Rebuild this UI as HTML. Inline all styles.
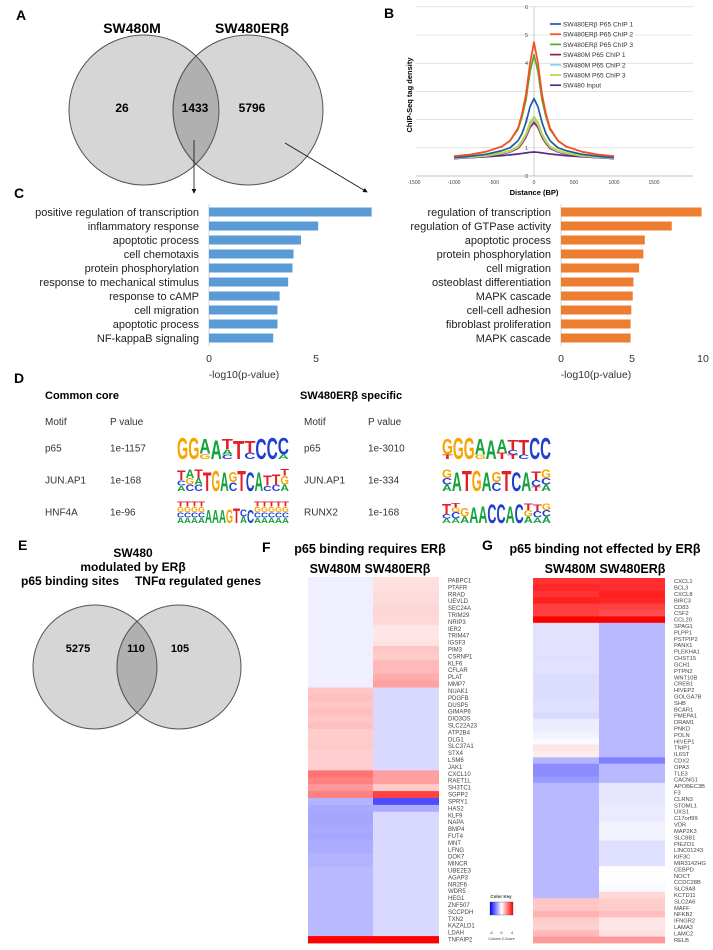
<!DOCTYPE html>
<html><head><meta charset="utf-8"><style>
html,body{margin:0;padding:0;background:#fff}
svg{display:block;font-family:"Liberation Sans",Arial,sans-serif}
</style></head><body>
<svg id="fig" width="713" height="950" viewBox="0 0 713 950" xmlns="http://www.w3.org/2000/svg">
<defs>
<linearGradient id="ckg" x1="0" x2="1" y1="0" y2="0"><stop offset="0" stop-color="#0000ff"/><stop offset="0.5" stop-color="#ffffff"/><stop offset="1" stop-color="#ff0000"/></linearGradient>
<marker id="arr" markerWidth="6" markerHeight="6" refX="5" refY="3" orient="auto"><path d="M0,0 L6,3 L0,6 z" fill="#111"/></marker>
</defs>
<!-- Panel A -->
<g>
<text x="16" y="20" font-size="14" font-weight="bold">A</text>
<circle cx="144" cy="110" r="75" fill="#d6d6d6" stroke="#555" stroke-width="1"/>
<circle cx="248" cy="110" r="75" fill="#d6d6d6" stroke="#555" stroke-width="1"/>
<path d="M196,56 A75,75 0 0 1 196,164 A75,75 0 0 1 196,56 Z" fill="#b0b0b0" stroke="#555" stroke-width="1"/>
<text x="132" y="33" font-size="14" font-weight="bold" text-anchor="middle">SW480M</text>
<text x="252" y="33" font-size="14" font-weight="bold" text-anchor="middle">SW480ERβ</text>
<text x="122" y="112" font-size="12" font-weight="bold" text-anchor="middle">26</text>
<text x="195" y="112" font-size="12" font-weight="bold" text-anchor="middle">1433</text>
<text x="252" y="112" font-size="12" font-weight="bold" text-anchor="middle">5796</text>
<line x1="194" y1="140" x2="194" y2="193" stroke="#111" stroke-width="0.8" marker-end="url(#arr)"/>
<line x1="285" y1="143" x2="367" y2="192" stroke="#111" stroke-width="0.8" marker-end="url(#arr)"/>
</g>
<!-- Panel B -->
<g id="pb">
<text x="384" y="18" font-size="14" font-weight="bold">B</text>
</g>
<!-- Panel C -->
<g id="pc">
<text x="14" y="198" font-size="14" font-weight="bold">C</text>
</g>
<!-- Panel D -->
<g id="pd">
<text x="14" y="383" font-size="14" font-weight="bold">D</text>
<text x="45" y="399" font-size="11" font-weight="bold">Common core</text>
<text x="300" y="399" font-size="11" font-weight="bold">SW480ERβ specific</text>
</g>
<!-- Panel E -->
<g>
<text x="18" y="550" font-size="14" font-weight="bold">E</text>
<text x="133" y="557" font-size="12" font-weight="bold" text-anchor="middle">SW480</text>
<text x="133" y="571" font-size="12" font-weight="bold" text-anchor="middle">modulated by ERβ</text>
<text x="70" y="585" font-size="12" font-weight="bold" text-anchor="middle">p65 binding sites</text>
<text x="198" y="585" font-size="12" font-weight="bold" text-anchor="middle">TNFα regulated genes</text>
<circle cx="95" cy="667" r="62" fill="#d6d6d6" stroke="#555"/>
<circle cx="179" cy="667" r="62" fill="#d6d6d6" stroke="#555"/>
<path d="M137,621.4 A62,62 0 0 1 137,712.6 A62,62 0 0 1 137,621.4 Z" fill="#b0b0b0" stroke="#555"/>
<text x="78" y="652" font-size="11" font-weight="bold" text-anchor="middle">5275</text>
<text x="136" y="652" font-size="11" font-weight="bold" text-anchor="middle">110</text>
<text x="180" y="652" font-size="11" font-weight="bold" text-anchor="middle">105</text>
</g>
<!-- Panels F,G -->
<g id="pf">
<text x="262" y="552" font-size="14" font-weight="bold">F</text>
<text x="370" y="553" font-size="12.5" font-weight="bold" text-anchor="middle">p65 binding requires ERβ</text>
<text x="370" y="573" font-size="12.5" font-weight="bold" text-anchor="middle">SW480M SW480ERβ</text>
</g>
<g id="pg">
<text x="482" y="550" font-size="14" font-weight="bold">G</text>
<text x="605" y="553" font-size="12.5" font-weight="bold" text-anchor="middle">p65 binding not effected by ERβ</text>
<text x="605" y="573" font-size="12.5" font-weight="bold" text-anchor="middle">SW480M SW480ERβ</text>
</g>
<g>
<text x="501" y="898" font-size="4.5" font-weight="bold" text-anchor="middle" fill="#333">Color Key</text>
<rect x="490" y="902" width="23" height="13" fill="url(#ckg)" stroke="#333" stroke-width="0.3"/>
<text x="491" y="934" font-size="4" text-anchor="middle" fill="#333">-4</text>
<text x="501.5" y="934" font-size="4" text-anchor="middle" fill="#333">0</text>
<text x="512" y="934" font-size="4" text-anchor="middle" fill="#333">4</text>
<text x="501.5" y="940" font-size="3.6" text-anchor="middle" fill="#333">Column Z-Score</text>
</g>
</svg>
<script>
// ---------- Panel B data ----------
const distances = [-1000,-800,-600,-400,-300,-200,-150,-100,-50,0,50,100,150,200,300,400,600,800,1000];
const erbChip1 = [0.65,0.70,0.77,0.90,1.00,1.25,1.50,1.90,2.45,2.75,2.45,1.90,1.50,1.25,1.00,0.90,0.77,0.70,0.65];
const erbChip2 = [0.70,0.76,0.86,1.05,1.25,1.70,2.20,2.90,4.00,4.75,4.00,2.90,2.20,1.70,1.25,1.05,0.86,0.76,0.70];
const erbChip3 = [0.70,0.76,0.86,1.05,1.25,1.65,2.10,2.70,3.70,4.30,3.70,2.70,2.10,1.65,1.25,1.05,0.86,0.76,0.70];
const mChip1 = [0.62,0.65,0.69,0.78,0.85,0.98,1.15,1.38,1.72,1.90,1.72,1.38,1.15,0.98,0.85,0.78,0.69,0.65,0.62];
const mChip2 = [0.63,0.66,0.71,0.80,0.87,1.02,1.20,1.45,1.80,2.00,1.80,1.45,1.20,1.02,0.87,0.80,0.71,0.66,0.63];
const mChip3 = [0.65,0.68,0.73,0.82,0.90,1.05,1.25,1.50,1.90,2.10,1.90,1.50,1.25,1.05,0.90,0.82,0.73,0.68,0.65];
const inputTrack = [0.62,0.65,0.68,0.72,0.75,0.78,0.80,0.82,0.84,0.85,0.84,0.82,0.80,0.78,0.75,0.72,0.68,0.65,0.62];
const seriesNames = ["SW480ERβ P65 ChIP 1","SW480ERβ P65 ChIP 2","SW480ERβ P65 ChIP 3","SW480M P65 ChIP 1","SW480M P65 ChIP 2","SW480M P65 ChIP 3","SW480 Input"];
const xTicksB = [-1500,-1000,-500,0,500,1000,1500];
const yTicksB = [0,1,2,3,4,5,6];

// ---------- Panel C data ----------
const goCommonTerms = ["positive regulation of transcription","inflammatory response","apoptotic process","cell chemotaxis","protein phosphorylation","response to mechanical stimulus","response to cAMP","cell migration","apoptotic process","NF-kappaB signaling"];
const goCommonValues = [7.6,5.1,4.3,3.95,3.9,3.7,3.3,3.2,3.2,3.0];
const goSpecificTerms = ["regulation of transcription","regulation of GTPase activity","apoptotic process","protein phosphorylation","cell migration","osteoblast differentiation","MAPK cascade","cell-cell adhesion","fibroblast proliferation","MAPK cascade"];
const goSpecificValues = [9.9,7.8,5.9,5.8,5.5,5.1,5.05,4.95,4.9,4.9];
const goTicksLeft = [0,5];
const goTicksRight = [0,5,10];

// ---------- Panel D data ----------
const motifNamesCommon = ["p65","JUN.AP1","HNF4A"];
const motifPCommon = ["1e-1157","1e-168","1e-96"];
const motifNamesSpecific = ["p65","JUN.AP1","RUNX2"];
const motifPSpecific = ["1e-3010","1e-334","1e-168"];
const logosCommon = [
 "G:1|G:1|G:.25,A:.7|A:.9|C:.2,A:.25,T:.5|T:.85|C:.3,T:.55|C:.95|C:1|A:.2,C:.8",
 "A:.25,C:.25,T:.45|C:.3,G:.3,A:.4|C:.3,A:.3,T:.4|T:.9|G:.95|A:.9|C:.4,G:.5|T:.95|C:.9|A:.9|C:.25,T:.5|C:.3,T:.5|A:.3,G:.4,T:.3",
 "A:.25,C:.25,G:.25,T:.25|A:.25,C:.25,G:.25,T:.25|A:.25,C:.25,G:.25,T:.25|A:.25,C:.25,G:.25,T:.25|A:.6|A:.6|A:.6|G:.65|T:.7|A:.3,C:.35|C:.6|A:.25,C:.25,G:.25,T:.25|A:.25,C:.25,G:.25,T:.25|A:.25,C:.25,G:.25,T:.25|A:.25,C:.25,G:.25,T:.25|A:.25,C:.25,G:.25,T:.25"
];
const logosSpecific = [
 "T:.2,G:.75|G:1|G:1|G:.2,A:.75|A:.9|T:.3,A:.6|T:.2,C:.2,T:.5|C:.2,T:.7|C:1|C:1",
 "A:.3,C:.3,G:.4|A:.9|T:.95|G:.95|A:.9|C:.4,G:.5|T:.95|C:.9|A:.9|T:.2,C:.3,T:.4|A:.3,C:.3,G:.4",
 "A:.2,C:.2,T:.5|A:.2,C:.3,G:.2,T:.2|A:.3,G:.4|A:.75|A:.8|C:.9|C:.9|A:.8|C:.9|A:.3,G:.3,T:.3|A:.25,C:.3,T:.3|A:.3,C:.3,G:.3"
];

// ---------- Panel F data ----------
const genesF = ["PABPC1","PTAFR","RRAD","UEVLD","SEC24A","TRIM29","NRIP3","IER2","TRIM47","IGSF3","PIM3","CSRNP1","KLF6","CFLAR","PLAT","MMP7","NUAK1","PDGFB","DUSP5","GIMAP6","DIO3OS","SLC22A23","ATP2B4","DLG1","SLC37A1","STX4","LSM6","JAK1","CXCL10","RAET1L","SH3TC1","SGPP2","SPRY1","HAS2","KLF9","NAPA","BMP4","FUT4","MNT","LFNG","DOK7","MINCR","UBE2E3","AGAP3","NR2F6","WDR5","HEG1","ZNF507","SCCPDH","TXN2","KAZALD1","LDAH","TNFAIP2"];
const zF_M = [-0.25,-0.25,-0.25,-0.25,-0.25,-0.25,-0.25,-0.25,-0.25,-0.25,-0.25,-0.25,-0.25,-0.25,-0.25,-0.25,
 0.9,1.0,0.9,1.0,0.9,1.0,0.8,0.8,0.85,0.75,0.75,0.75,
 2.2,2.0,1.6,2.0,
 -1.2,-1.35,-1.4,-1.4,-1.35,-1.4,-1.3,-1.3,-1.2,-1.2,-1.1,-1.1,-1.1,-1.1,-1.1,-1.1,-1.1,-1.1,-1.1,-1.1,
 4.0];
const zF_E = [0.5,0.5,0.55,0.55,0.65,0.65,0.6,0.4,0.4,0.45,0.9,0.8,1.1,1.1,1.3,1.5,
 -0.6,-0.6,-0.6,-0.6,-0.6,-0.6,-0.6,-0.6,-0.6,-0.6,-0.6,-0.6,
 1.5,1.5,0.8,3.0,
 -2.8,-1.3,-0.6,-0.6,-0.6,-0.6,-0.6,-0.6,-0.6,-0.6,-0.6,-0.6,-0.6,-0.6,-0.6,-0.6,-0.6,-0.6,-0.6,-0.6,
 4.0];

// ---------- Panel G data ----------
const genesG = ["CXCL1","BCL3","CXCL8","BIRC3","CD83","CSF2","CCL20","SPAG1","PLPP1","PSTPIP2","PANX1","PLEKHA1","CHST15","GCH1","PTPN2","WNT10B","CREB1","HIVEP2","GOLGA7B","SHB","BCAR1","PMEPA1","DRAM1","PNKD","POLN","HIVEP1","TNIP1","IL6ST","CDX2","OPA3","TLE3","CACNG1","APOBEC3B","F3","CLRN3","STOML1","UXS1","C17orf99","VDR","MAP2K3","SLC8B1","PIEZO1","LINC01243","KIF3C","MIR3142HG","CEBPD","NOCT","CCDC28B","SLC9A8","KCTD11","SLC2A6","MAFF","NFKB2","IFNGR2","LAMA3","LAMC2","RELB"];
const zG_M = [3.2,3.4,3.2,3.5,3.0,3.0,4.0,
 -0.45,-0.45,-0.45,-0.45,-0.45,-0.5,-0.45,-0.45,-0.55,-0.55,-0.55,-0.55,-0.5,-0.5,-0.6,-0.3,-0.3,-0.2,-0.1,0.4,0.3,
 -1.2,-1.8,-1.8,-1.6,
 -1.1,-1.1,-1.1,-1.1,-1.1,-1.1,-1.1,-1.1,-1.1,-1.1,-1.1,-1.1,-1.1,-1.1,-1.1,-1.1,-1.1,-1.1,
 0.9,0.9,1.2,0.8,0.7,1.1,1.6];
const zG_E = [3.3,3.3,3.5,3.4,3.0,2.8,4.0,
 -1.1,-1.1,-1.1,-1.1,-1.1,-1.1,-1.1,-1.1,-1.1,-1.1,-1.1,-1.1,-1.1,-1.1,-1.1,-1.1,-1.1,-1.1,-1.1,-1.1,-1.1,
 -2.0,-1.1,-1.1,-1.1,
 -0.4,-0.4,-0.4,-0.35,-0.3,-0.35,-0.2,-0.2,-0.2,-0.5,-0.5,-0.5,-0.5,0.05,0,-0.05,-0.1,0.6,
 0.8,0.8,1.0,0.4,0.4,0.5,1.6];

const NS = "http://www.w3.org/2000/svg";
function mk(parent, tag, attrs, text){
  const e = document.createElementNS(NS, tag);
  for (const k in attrs) e.setAttribute(k, attrs[k]);
  if (text !== undefined) e.textContent = text;
  parent.appendChild(e);
  return e;
}

// ===== Panel B =====
(function(){
  const g = document.getElementById('pb');
  const xB = d => 534 + d*0.08;
  const yB = v => 176 - v*28.2;
  yTicksB.forEach(t=>{
    const gl = mk(g,'line',{x1:416,x2:693,y1:yB(t),y2:yB(t),stroke:'#cfcfcf','stroke-width':0.6});
    
    
    const tl = mk(g,'text',{x:528,y:yB(t)+2,'font-size':5.5,'text-anchor':'end',fill:'#444'},String(t));
    
    
  });
  const ax = mk(g,'line',{x1:xB(0),x2:xB(0),y1:yB(6),y2:yB(0),stroke:'#aaa','stroke-width':0.6});
  
  
  const bx = mk(g,'line',{x1:416,x2:693,y1:yB(0),y2:yB(0),stroke:'#999','stroke-width':0.6});
  
  
  xTicksB.forEach(t=>{
    const tl = mk(g,'text',{x:xB(t),y:184,'font-size':5,'text-anchor':'middle',fill:'#444'},String(t));
    
    
  });
  const xt = mk(g,'text',{x:534,y:195,'font-size':7.5,'font-weight':'bold','text-anchor':'middle'},'Distance (BP)');
  
  
  const yt = mk(g,'text',{x:0,y:0,'font-size':7.5,'font-weight':'bold','text-anchor':'middle',transform:'translate(412,95) rotate(-90)'},'ChIP-Seq tag  density');
  
  
  const series = [inputTrack,mChip1,mChip2,mChip3,erbChip1,erbChip3,erbChip2];
  const sIdx = [6,3,4,5,0,2,1];
  const colors = ['#1f5aa6','#ff4a1c','#5ea32e','#9c1c30','#86d0f0','#bcd634','#5a2a88'];
  series.forEach((vals,i)=>{
    const d = vals.map((v,j)=>(j?'L':'M')+xB(distances[j]).toFixed(2)+','+yB(v).toFixed(2)).join(' ');
    const p = mk(g,'path',{d:d,fill:'none',stroke:colors[sIdx[i]],'stroke-width':1.7,'stroke-linejoin':'round'});
    
    
  });
  seriesNames.forEach((n,i)=>{
    const y = 24 + i*10.2;
    const l = mk(g,'line',{x1:550,x2:561,y1:y,y2:y,stroke:colors[i],'stroke-width':1.7});
    
    
    const t = mk(g,'text',{x:563,y:y+2.5,'font-size':6.6,fill:'#333'},n);
    
    
  });
})();

// ===== Panel C =====
(function(){
  const g = document.getElementById('pc');
  function chart(terms, vals, ticks, x0, scale, labelRight, color, nm){
    const yRow = i => 212 + i*14;
    const ax = mk(g,'line',{x1:x0,x2:x0,y1:204,y2:346,stroke:'#ccc','stroke-width':0.8});
    
    
    terms.forEach((t,i)=>{
      const b = mk(g,'rect',{x:x0,y:yRow(i)-4.5,width:vals[i]*scale,height:9,fill:color});
      
      
      const l = mk(g,'text',{x:labelRight,y:yRow(i)+4,'font-size':11,'text-anchor':'end',fill:'#222'},t);
      
      
    });
    ticks.forEach(t=>{
      const tl = mk(g,'text',{x:x0+t*scale,y:362,'font-size':10.5,'text-anchor':'middle',fill:'#333'},String(t));
      
      
    });
    const xt = mk(g,'text',{x:x0+35,y:378,'font-size':10.5,'text-anchor':'middle',fill:'#333'},'-log10(p-value)');
    
    
  }
  chart(goCommonTerms, goCommonValues, goTicksLeft, 209, 21.4, 199, '#5b9bd5', 'go-common');
  chart(goSpecificTerms, goSpecificValues, goTicksRight, 561, 14.2, 551, '#ed7d31', 'go-specific');
})();

// ===== Panel D =====
(function(){
  const g = document.getElementById('pd');
  const letterColor = {A:'#14a33a',C:'#1e3fd0',G:'#f7a400',T:'#e21f26'};
  const rowsY = [448,480,512];
  function header(x1,x2){
    const a = mk(g,'text',{x:x1,y:425,'font-size':10,fill:'#333'},'Motif');
    
    
    const b = mk(g,'text',{x:x2,y:425,'font-size':10,fill:'#333'},'P value');
    
    
  }
  header(45,110); header(304,368);
  function logo(spec, x0, width, yMid, nm){
    const cols = spec.split('|');
    const w = width/cols.length;
    const H = 22, base = yMid + 11;
    cols.forEach((c,ci)=>{
      let yb = base;
      c.split(',').forEach(e=>{
        const [L,h] = e.split(':');
        const hp = parseFloat(h)*H;
        const sy = hp/(0.73*20);
        const t = mk(g,'text',{x:0,y:0,'font-size':20,'font-weight':'bold',fill:letterColor[L],textLength:w,lengthAdjust:'spacingAndGlyphs',transform:`translate(${(x0+ci*w).toFixed(2)},${yb.toFixed(2)}) scale(1,${sy.toFixed(3)})`},L);
        
        
        yb -= hp;
      });
    });
  }
  rowsY.forEach((y,i)=>{
    const a = mk(g,'text',{x:45,y:y+3.5,'font-size':10,fill:'#333'},motifNamesCommon[i]);
    
    
    const b = mk(g,'text',{x:110,y:y+3.5,'font-size':10,fill:'#333'},motifPCommon[i]);
    
    
    const c = mk(g,'text',{x:304,y:y+3.5,'font-size':10,fill:'#333'},motifNamesSpecific[i]);
    
    
    const d = mk(g,'text',{x:368,y:y+3.5,'font-size':10,fill:'#333'},motifPSpecific[i]);
    
    
    logo(logosCommon[i],177,112,y,'motif-logo-letter-common');
    logo(logosSpecific[i],442,109,y,'motif-logo-letter-specific');
  });
})();

// ===== Heatmaps =====
function zColor(z){
  const t = Math.min(Math.abs(z)/4,1);
  const v = Math.round(255*(1-t));
  return z>=0 ? `rgb(255,${v},${v})` : `rgb(${v},${v},255)`;
}
function heatmap(gid, genes, colA, colB, x0, xs, x1, y0, y1, lx, nm){
  const g = document.getElementById(gid);
  const rh = (y1-y0)/genes.length;
  genes.forEach((gn,i)=>{
    const y = y0 + i*rh;
    const a = mk(g,'rect',{x:x0,y:y.toFixed(2),width:xs-x0,height:(rh+0.4).toFixed(2),fill:zColor(colA[i])});
    
    
    const b = mk(g,'rect',{x:xs,y:y.toFixed(2),width:x1-xs,height:(rh+0.4).toFixed(2),fill:zColor(colB[i])});
    
    
    const t = mk(g,'text',{x:lx,y:(y+rh*0.5+2).toFixed(2),'font-size':Math.min(6,rh*0.9).toFixed(2),fill:'#444'},gn);
    
    
  });
}
heatmap('pf', genesF, zF_M, zF_E, 308, 373, 439, 577, 943, 448, 'heatmap-f');
heatmap('pg', genesG, zG_M, zG_E, 533, 599, 665, 578, 943, 674, 'heatmap-g');
</script>
</body></html>
